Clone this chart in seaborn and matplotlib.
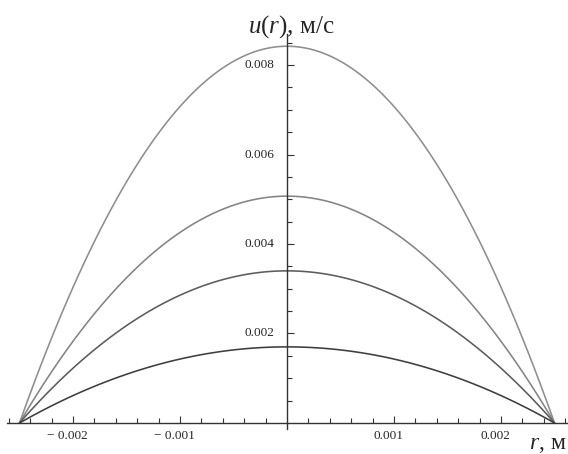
import matplotlib
matplotlib.use("Agg")
import matplotlib.pyplot as plt
import matplotlib.transforms as mtransforms
import seaborn as sns
from matplotlib.ticker import FixedLocator

sns.set_theme(style="white")
plt.rcParams["font.family"] = ["Liberation Serif", "DejaVu Serif"]
plt.rcParams["mathtext.fontset"] = "custom"
plt.rcParams["mathtext.it"] = "Liberation Serif:italic"
plt.rcParams["mathtext.rm"] = "Liberation Serif"

# radial position, m
r = [-0.0025, -0.00225, -0.002, -0.00175, -0.0015, -0.00125, -0.001, -0.00075,
     -0.0005, -0.00025, 0.0, 0.00025, 0.0005, 0.00075, 0.001, 0.00125, 0.0015,
     0.00175, 0.002, 0.00225, 0.0025]

# velocity profiles u(r), m/s
u1 = [0.0, 0.00160, 0.00303, 0.00429, 0.00539, 0.00632, 0.00707, 0.00766,
      0.00808, 0.00834, 0.00842, 0.00834, 0.00808, 0.00766, 0.00707, 0.00632,
      0.00539, 0.00429, 0.00303, 0.00160, 0.0]
u2 = [0.0, 0.00096, 0.00183, 0.00259, 0.00324, 0.00380, 0.00426, 0.00461,
      0.00487, 0.00502, 0.00507, 0.00502, 0.00487, 0.00461, 0.00426, 0.00380,
      0.00324, 0.00259, 0.00183, 0.00096, 0.0]
u3 = [0.0, 0.00065, 0.00122, 0.00173, 0.00218, 0.00255, 0.00286, 0.00309,
      0.00326, 0.00337, 0.00340, 0.00337, 0.00326, 0.00309, 0.00286, 0.00255,
      0.00218, 0.00173, 0.00122, 0.00065, 0.0]
u4 = [0.0, 0.00032, 0.00061, 0.00087, 0.00109, 0.00128, 0.00143, 0.00155,
      0.00163, 0.00168, 0.00170, 0.00168, 0.00163, 0.00155, 0.00143, 0.00128,
      0.00109, 0.00087, 0.00061, 0.00032, 0.0]

x_ticks = [-0.002, -0.001, 0.001, 0.002]
x_labels = ["\u2212 0.002", "\u2212 0.001", "0.001", "0.002"]
y_ticks = [0.002, 0.004, 0.006, 0.008]
y_labels = ["0.002", "0.004", "0.006", "0.008"]

profiles = [u1, u2, u3, u4]
colors = ["#8e8e8e", "#848484", "#5c5c5c", "#3e3e3e"]

fig = plt.figure(figsize=(5.68, 4.54), dpi=100)
ax = fig.add_axes([0, 0, 1, 1])
ax.set_facecolor("none")

# smooth parabolic profile through each set of points
for u, c in zip(profiles, colors):
    sns.regplot(x=r, y=u, order=2, ci=None, scatter=False, truncate=True,
                line_kws={"color": c, "linewidth": 1.15}, ax=ax)

ax.set_xlim(-0.002682, 0.002626)
ax.set_ylim(-0.000693, 0.009453)

# axes through the origin
for side in ("top", "right"):
    ax.spines[side].set_visible(False)
ax.spines["left"].set_position(("data", 0))
ax.spines["bottom"].set_position(("data", 0))
ax.spines["left"].set_bounds(-0.00013, 0.0087)
ax.spines["bottom"].set_bounds(-0.00262, 0.002626)
for side in ("left", "bottom"):
    ax.spines[side].set_color("#333333")
    ax.spines[side].set_linewidth(1.0)

x_minor = [k * 0.0002 for k in range(-13, 14) if k % 5 != 0]
y_minor = [k * 0.0005 for k in range(1, 18) if k % 4 != 0]

ax.xaxis.set_major_locator(FixedLocator(x_ticks))
ax.set_xticklabels(x_labels)
ax.xaxis.set_minor_locator(FixedLocator(x_minor))
ax.yaxis.set_major_locator(FixedLocator(y_ticks))
ax.set_yticklabels(y_labels)
ax.yaxis.set_minor_locator(FixedLocator(y_minor))

ax.tick_params(axis="x", which="both", direction="in", color="#333333",
               bottom=True, width=0.8, labelsize=9.5, pad=5)
ax.tick_params(axis="x", which="major", length=5)
ax.tick_params(axis="x", which="minor", length=3.5)
ax.tick_params(axis="y", which="both", direction="in", color="#333333",
               left=True, width=0.8, labelsize=9.5, pad=9)
ax.tick_params(axis="y", which="major", length=5)
ax.tick_params(axis="y", which="minor", length=3.5)
for lab in ax.get_yticklabels():
    lab.set_verticalalignment("center")

shift = mtransforms.ScaledTranslation(-0.06, 0, fig.dpi_scale_trans)
for lab in ax.get_xticklabels():
    lab.set_transform(lab.get_transform() + shift)

ax.set_xlabel("")
ax.set_ylabel("")
ax.grid(False)

ax.text(0.00004, 0.00886, r"$u$($r$), м/с", fontsize=18, ha="center", va="center")
ax.text(0.002607, -0.00049, r"$r$, м", fontsize=17, ha="right", va="center")

fig.savefig("out.png", dpi=100)
